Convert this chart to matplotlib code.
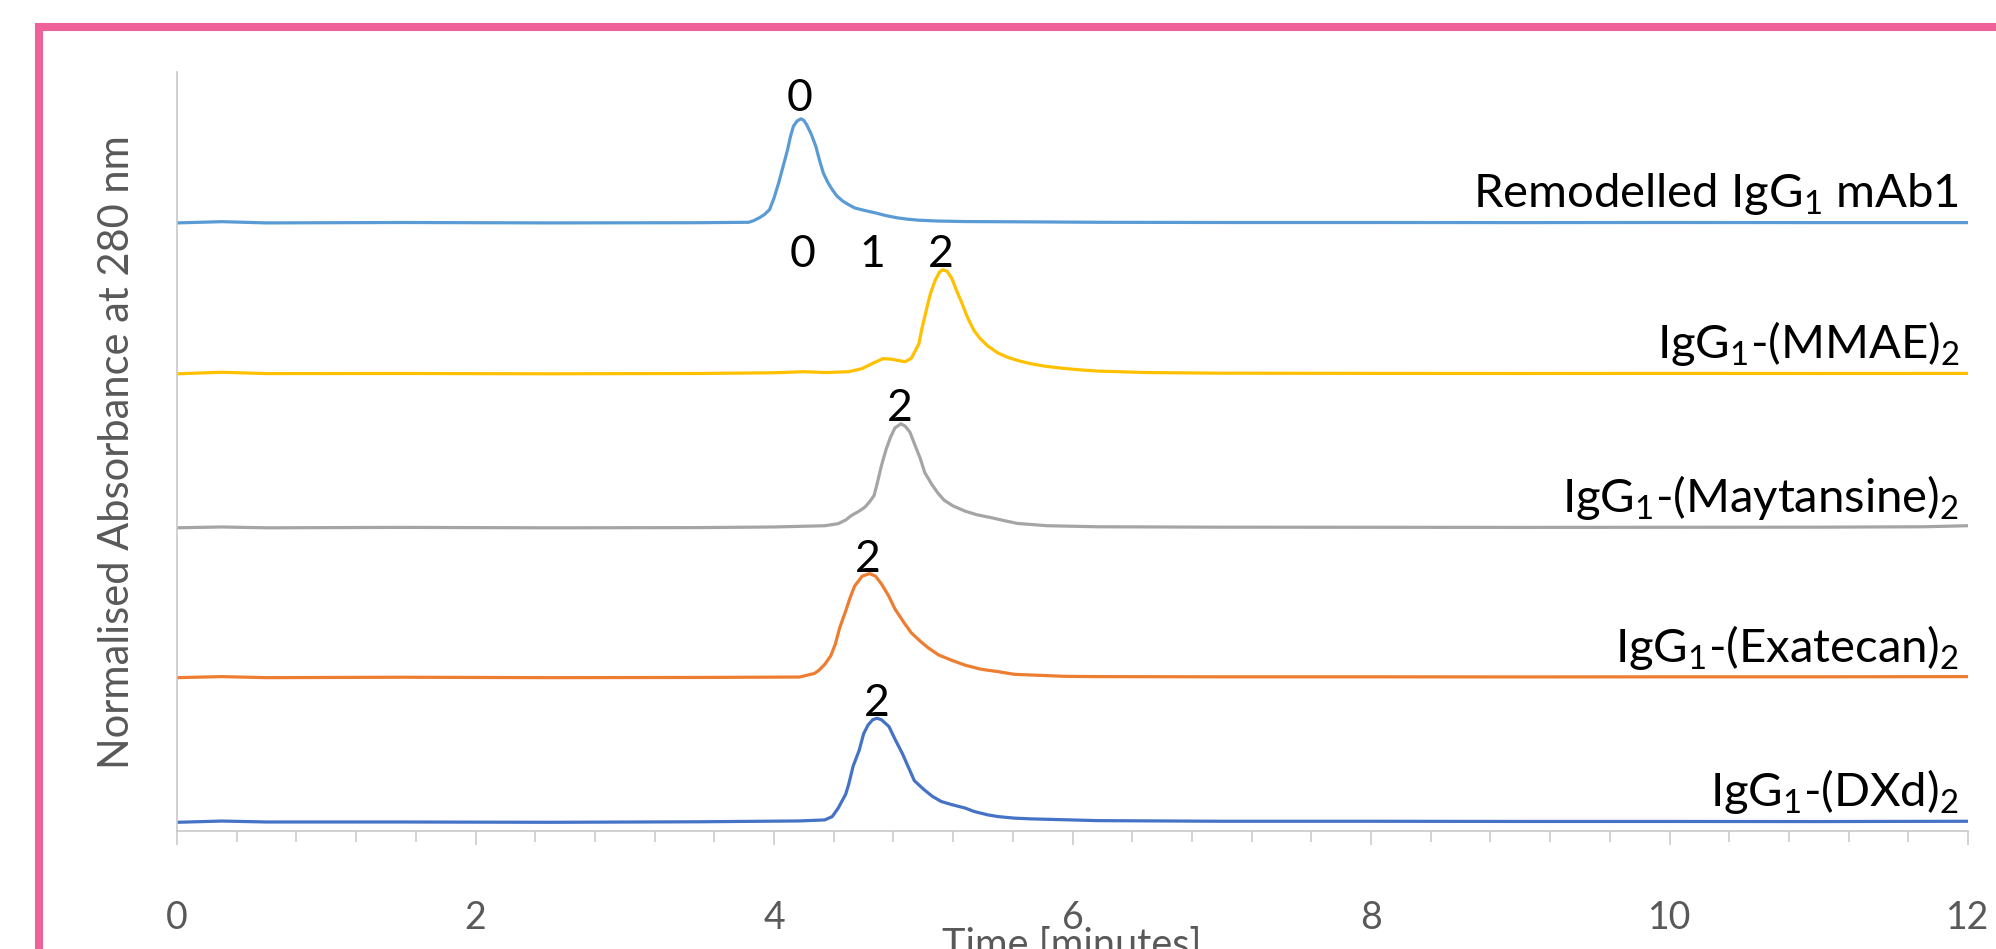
import matplotlib
matplotlib.use("Agg")
import matplotlib.pyplot as plt
from matplotlib.patches import Rectangle

plt.rcParams['font.family'] = ['Lato', 'DejaVu Sans']
plt.rcParams['mathtext.fontset'] = 'custom'
plt.rcParams['mathtext.rm'] = 'Lato'
plt.rcParams['mathtext.it'] = 'Lato:italic'

# ---------- data (normalised absorbance) ----------

names = [r'IgG$_1$-(DXd)$_2$', r'IgG$_1$-(Exatecan)$_2$', r'IgG$_1$-(Maytansine)$_2$',
         r'IgG$_1$-(MMAE)$_2$', r'Remodelled IgG$_1$ mAb1']
colors = ['#4472C4', '#ED7D31', '#A5A5A5', '#FFC000', '#5B9BD5']
offsets = [0.0, 1.39, 2.83, 4.31, 5.76]

t_dxd = [0, 0.3, 0.6, 1.5, 2.5, 3.5, 4.17, 4.34, 4.39, 4.43, 4.48, 4.50, 4.53, 4.57, 4.60,
         4.63, 4.66, 4.69, 4.72, 4.77, 4.81, 4.86, 4.90, 4.94, 5.0, 5.06, 5.12, 5.19, 5.28,
         5.34, 5.43, 5.5, 5.61, 5.72, 6.17, 7, 8, 9, 10, 11, 12]
a_dxd = [0, 0.012, 0.003, 0.003, 0, 0.005, 0.013, 0.023, 0.055, 0.137, 0.27, 0.365, 0.54,
         0.69, 0.85, 0.935, 0.985, 1.0, 0.985, 0.92, 0.80, 0.66, 0.53, 0.40, 0.32, 0.25, 0.20,
         0.17, 0.137, 0.104, 0.072, 0.055, 0.04, 0.033, 0.016, 0.01, 0.01, 0.008, 0.008,
         0.007, 0.01]

t_exa = [0, 0.3, 0.6, 1.5, 2.5, 3.5, 4.17, 4.27, 4.30, 4.34, 4.38, 4.41, 4.44, 4.48, 4.51,
         4.54, 4.59, 4.64, 4.68, 4.72, 4.77, 4.81, 4.87, 4.92, 4.98, 5.03, 5.10, 5.19, 5.28,
         5.39, 5.5, 5.61, 5.94, 6.17, 7, 8, 9, 10, 11, 12]
a_exa = [0, 0.01, 0, 0.004, 0, 0.002, 0.006, 0.04, 0.07, 0.128, 0.21, 0.32, 0.48, 0.64, 0.77,
         0.88, 0.975, 1.0, 0.975, 0.90, 0.78, 0.66, 0.53, 0.43, 0.35, 0.29, 0.22, 0.167, 0.12,
         0.08, 0.058, 0.032, 0.013, 0.01, 0.008, 0.008, 0.007, 0.008, 0.008, 0.01]

t_may = [0, 0.3, 0.6, 1.5, 2.5, 3.5, 4.0, 4.34, 4.43, 4.48, 4.52, 4.57, 4.61, 4.64, 4.67,
         4.69, 4.72, 4.75, 4.78, 4.81, 4.85, 4.88, 4.91, 4.94, 4.98, 5.01, 5.06, 5.10, 5.14,
         5.2, 5.28, 5.36, 5.46, 5.54, 5.63, 5.83, 6.17, 7, 8, 9, 10, 11, 11.7, 12]
a_may = [0, 0.008, 0, 0.004, 0, 0.002, 0.008, 0.02, 0.04, 0.075, 0.12, 0.16, 0.20, 0.25, 0.31,
         0.42, 0.60, 0.75, 0.87, 0.96, 1.0, 0.975, 0.92, 0.81, 0.665, 0.53, 0.41, 0.33, 0.265,
         0.21, 0.16, 0.125, 0.096, 0.07, 0.042, 0.02, 0.01, 0.006, 0.005, 0.004, 0.005, 0.006,
         0.01, 0.02]

t_mmae = [0, 0.3, 0.6, 1.5, 2.5, 3.5, 4.0, 4.2, 4.35, 4.5, 4.59, 4.66, 4.73, 4.79, 4.84,
          4.88, 4.92, 4.97, 4.99, 5.02, 5.035, 5.05, 5.08, 5.11, 5.13, 5.16, 5.19, 5.22, 5.26,
          5.28, 5.30, 5.34, 5.38, 5.43, 5.5, 5.57, 5.64, 5.72, 5.82, 5.94, 6.05, 6.17, 6.5,
          7, 8, 9, 10, 11, 12]
a_mmae = [0, 0.015, 0.002, 0.003, 0, 0.003, 0.01, 0.02, 0.012, 0.02, 0.05, 0.10, 0.146, 0.14,
          0.125, 0.117, 0.15, 0.286, 0.43, 0.61, 0.70, 0.78, 0.90, 0.98, 1.0, 0.985, 0.92,
          0.81, 0.675, 0.6, 0.53, 0.415, 0.34, 0.27, 0.2, 0.156, 0.125, 0.097, 0.072, 0.052,
          0.038, 0.026, 0.012, 0.006, 0.004, 0.003, 0.004, 0.003, 0.004]

t_mab = [0, 0.3, 0.6, 1.5, 2.5, 3.5, 3.83, 3.86, 3.9, 3.935, 3.97, 4.0, 4.03, 4.06, 4.09,
         4.11, 4.13, 4.155, 4.18, 4.20, 4.22, 4.25, 4.28, 4.305, 4.33, 4.36, 4.39, 4.42, 4.46,
         4.5, 4.54, 4.6, 4.68, 4.75, 4.83, 4.9, 4.97, 5.1, 5.28, 5.72, 6.17, 7, 8, 9, 10, 11, 12]
a_mab = [0, 0.012, 0, 0.004, 0, 0.002, 0.006, 0.02, 0.048, 0.08, 0.128, 0.24, 0.38, 0.54, 0.70,
         0.83, 0.93, 0.98, 1.0, 0.985, 0.94, 0.85, 0.735, 0.60, 0.48, 0.39, 0.32, 0.26, 0.21,
         0.175, 0.144, 0.122, 0.096, 0.07, 0.048, 0.035, 0.026, 0.018, 0.013, 0.01, 0.006,
         0.004, 0.004, 0.003, 0.004, 0.003, 0.003]

times = [t_dxd, t_exa, t_may, t_mmae, t_mab]
absorb = [a_dxd, a_exa, a_may, a_mmae, a_mab]

# drug-to-antibody ratio labels above the peaks: (time, height, text)
peak_labels = [
    (4.69, 1.02, '2'),
    (4.63, 2.41, '2'),
    (4.84, 3.86, '2'),
    (4.19, 5.34, '0'), (4.66, 5.34, '1'), (5.12, 5.34, '2'),
    (4.17, 6.84, '0'),
]

# ---------- plot ----------

fig = plt.figure(figsize=(19.96, 9.49), dpi=100)
ax = fig.add_axes([0.0887, 0.1243, 0.8973, 0.7998])

for t, a, off, c in zip(times, absorb, offsets, colors):
    ax.plot(t, [v + off for v in a], color=c, lw=2.3, solid_joinstyle='round',
            solid_capstyle='round')

for off, name in zip(offsets, names):
    ax.text(11.94, off + 0.155, name, ha='right', va='baseline', fontsize=34, color='black')

for x, y, s in peak_labels:
    ax.text(x, y, s, ha='center', va='baseline', fontsize=32, color='black')

ax.set_xlim(0, 12)
ax.set_ylim(-0.084, 7.21)
ax.set_xticks(range(0, 13, 2))
ax.set_xticks([i * 0.4 for i in range(31)], minor=True)
ax.set_yticks([])
for side in ['top', 'right']:
    ax.spines[side].set_visible(False)
for side in ['left', 'bottom']:
    ax.spines[side].set_color('#C8C8C8')
    ax.spines[side].set_linewidth(1.2)
ax.tick_params(axis='x', which='major', direction='out', length=10, width=1.1,
               color='#C8C8C8', labelsize=27, labelcolor='#595959', pad=40)
ax.tick_params(axis='x', which='minor', direction='out', length=8, width=1.1, color='#C8C8C8')

fig.text(0.537, 0.0232, 'Time [minutes]', ha='center', va='top', fontsize=28.5, color='#595959')
fig.text(0.0586, 0.5237, 'Normalised Absorbance at 280 nm', rotation=90, ha='center',
         va='center', fontsize=30, color='#595959')

# pink frame around the figure panel
fig.add_artist(Rectangle((0.01954, -0.1), 1.2, 1.07155, transform=fig.transFigure,
                         fill=False, edgecolor='#EF6199', lw=5.8, clip_on=False))

fig.savefig('out.png', dpi=100)
